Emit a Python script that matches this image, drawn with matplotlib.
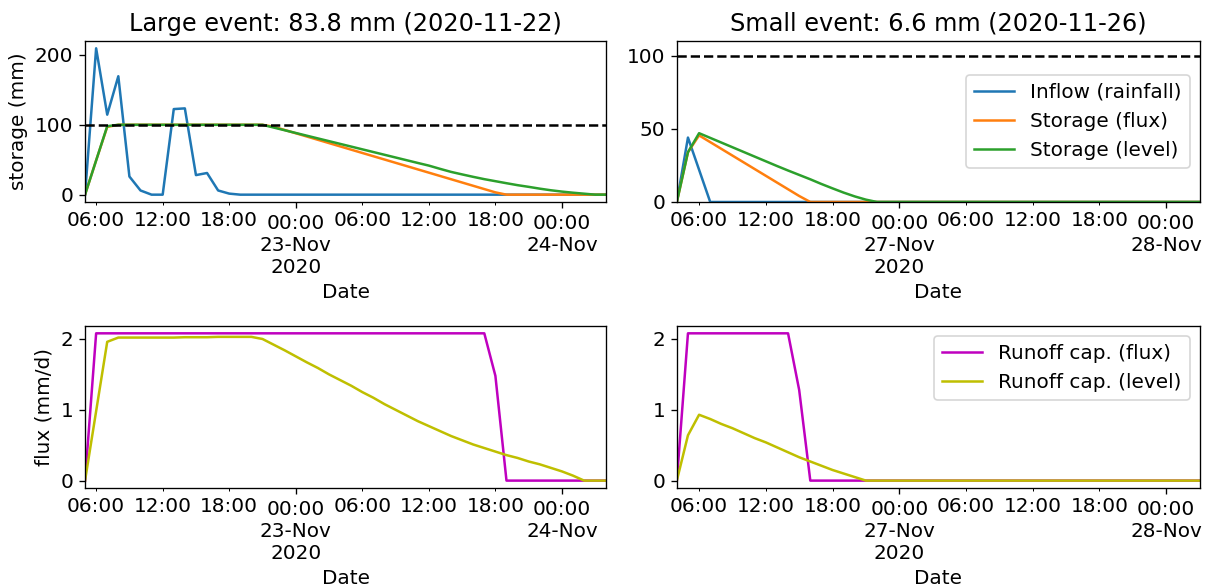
import matplotlib
matplotlib.use("Agg")
import matplotlib.pyplot as plt
import matplotlib.dates as mdates
import pandas as pd

plt.rcParams["font.size"] = 12

# ---------------- large event (hourly, from 2020-11-22 05:00) ----------------
large_start = "2020-11-22 05:00"
large_title = "Large event: 83.8 mm (2020-11-22)"

inflow_large = [0, 209.5, 114.5, 169.5, 26, 6, 0, 0, 122.5, 123.5, 28, 31, 6, 1.5,
                0, 0, 0, 0, 0, 0, 0, 0, 0, 0, 0, 0, 0, 0, 0, 0, 0, 0, 0, 0,
                0, 0, 0, 0, 0, 0, 0, 0, 0, 0, 0, 0, 0, 0]
storage_flux_large = [0, 49, 97, 100, 100, 100, 100, 100, 100, 100, 100, 100, 100, 100,
                      100, 100, 100, 97.3, 92.6, 87.9, 83.2, 78.5, 73.8, 69.1, 64.4, 59.7,
                      55.0, 50.3, 45.6, 40.9, 36.2, 31.5, 26.8, 22.1, 17.4, 12.7, 8.0, 3.3,
                      0, 0, 0, 0, 0, 0, 0, 0, 0, 0]
storage_level_large = [0, 49, 98, 100, 100, 100, 100, 100, 100, 100, 100, 100, 100, 100,
                       100, 100, 100, 96.1, 92.2, 88.3, 84.4, 80.5, 76.6, 72.7, 68.8, 64.9,
                       61.0, 57.1, 53.2, 49.3, 45.4, 41.6, 37.0, 32.6, 29.0, 25.5, 22.2,
                       19.3, 16.4, 13.6, 11.2, 8.6, 6.3, 4.4, 2.8, 1.4, 0, 0]
runoff_flux_large = [0, 2.08, 2.08, 2.08, 2.08, 2.08, 2.08, 2.08, 2.08, 2.08, 2.08, 2.08,
                     2.08, 2.08, 2.08, 2.08, 2.08, 2.08, 2.08, 2.08, 2.08, 2.08, 2.08, 2.08,
                     2.08, 2.08, 2.08, 2.08, 2.08, 2.08, 2.08, 2.08, 2.08, 2.08, 2.08, 2.08,
                     2.08, 1.48, 0, 0, 0, 0, 0, 0, 0, 0, 0, 0]
runoff_level_large = [0, 0.98, 1.96, 2.02, 2.02, 2.02, 2.02, 2.02, 2.02, 2.025, 2.025, 2.025,
                      2.03, 2.03, 2.03, 2.03, 2.00, 1.92, 1.84, 1.755, 1.67, 1.59, 1.50, 1.42,
                      1.34, 1.25, 1.17, 1.08, 1.00, 0.92, 0.84, 0.77, 0.70, 0.63, 0.57, 0.51,
                      0.46, 0.41, 0.36, 0.32, 0.27, 0.23, 0.18, 0.13, 0.07, 0, 0, 0]

large_major = ["2020-11-23 00:00", "2020-11-24 00:00"]
large_major_labels = ["00:00\n23-Nov\n2020", "00:00\n24-Nov"]
large_minor = ["2020-11-22 06:00", "2020-11-22 12:00", "2020-11-22 18:00",
               "2020-11-23 06:00", "2020-11-23 12:00", "2020-11-23 18:00"]
large_minor_labels = ["06:00", "12:00", "18:00", "06:00", "12:00", "18:00"]

# ---------------- small event (hourly, from 2020-11-26 04:00) ----------------
small_start = "2020-11-26 04:00"
small_title = "Small event: 6.6 mm (2020-11-26)"

inflow_small = [0, 44, 22, 0, 0, 0, 0, 0, 0, 0, 0, 0, 0, 0, 0, 0, 0, 0, 0, 0, 0, 0, 0, 0,
                0, 0, 0, 0, 0, 0, 0, 0, 0, 0, 0, 0, 0, 0, 0, 0, 0, 0, 0, 0, 0, 0, 0, 0]
storage_flux_small = [0, 34, 45.5, 40.9, 36.3, 31.7, 27.1, 22.5, 17.9, 13.3, 8.7, 4.1, 0,
                      0, 0, 0, 0, 0, 0, 0, 0, 0, 0, 0, 0, 0, 0, 0, 0, 0, 0, 0, 0, 0, 0, 0,
                      0, 0, 0, 0, 0, 0, 0, 0, 0, 0, 0, 0]
storage_level_small = [0, 34, 47, 43.8, 40.6, 37.4, 34.2, 31.0, 27.8, 24.6, 21.5, 18.5, 15.5,
                       12.3, 9.3, 6.4, 3.8, 1.6, 0, 0, 0, 0, 0, 0, 0, 0, 0, 0, 0, 0, 0, 0,
                       0, 0, 0, 0, 0, 0, 0, 0, 0, 0, 0, 0, 0, 0, 0, 0]
runoff_flux_small = [0, 2.08, 2.08, 2.08, 2.08, 2.08, 2.08, 2.08, 2.08, 2.08, 2.08, 1.28, 0,
                     0, 0, 0, 0, 0, 0, 0, 0, 0, 0, 0, 0, 0, 0, 0, 0, 0, 0, 0, 0, 0, 0, 0,
                     0, 0, 0, 0, 0, 0, 0, 0, 0, 0, 0, 0]
runoff_level_small = [0, 0.64, 0.93, 0.87, 0.80, 0.74, 0.67, 0.60, 0.54, 0.47, 0.40, 0.33,
                      0.27, 0.21, 0.15, 0.10, 0.05, 0, 0, 0, 0, 0, 0, 0, 0, 0, 0, 0, 0, 0,
                      0, 0, 0, 0, 0, 0, 0, 0, 0, 0, 0, 0, 0, 0, 0, 0, 0, 0]

small_major = ["2020-11-27 00:00", "2020-11-28 00:00"]
small_major_labels = ["00:00\n27-Nov\n2020", "00:00\n28-Nov"]
small_minor = ["2020-11-26 06:00", "2020-11-26 12:00", "2020-11-26 18:00",
               "2020-11-27 06:00", "2020-11-27 12:00", "2020-11-27 18:00"]
small_minor_labels = ["06:00", "12:00", "18:00", "06:00", "12:00", "18:00"]

storage_capacity = 100

fig = plt.figure(figsize=(1208 / 120, 587 / 120), dpi=120)
ax_tl = fig.add_axes([0.0704, 0.6559, 0.4315, 0.2743])
ax_tr = fig.add_axes([0.5603, 0.6559, 0.4327, 0.2743])
ax_bl = fig.add_axes([0.0704, 0.1687, 0.4315, 0.2760])
ax_br = fig.add_axes([0.5603, 0.1687, 0.4327, 0.2760])


def date_axis(ax, times, major, major_labels, minor, minor_labels):
    ax.set_xlim(times[0], times[-1])
    ax.set_xticks(mdates.date2num(pd.to_datetime(major)), labels=major_labels)
    ax.set_xticks(mdates.date2num(pd.to_datetime(minor)), labels=minor_labels, minor=True)
    ax.set_xlabel("Date")


for start, inflow, s_flux, s_level, r_flux, r_level, major, major_labels, minor, minor_labels, title, top, bottom in [
    (large_start, inflow_large, storage_flux_large, storage_level_large,
     runoff_flux_large, runoff_level_large, large_major, large_major_labels,
     large_minor, large_minor_labels, large_title, ax_tl, ax_bl),
    (small_start, inflow_small, storage_flux_small, storage_level_small,
     runoff_flux_small, runoff_level_small, small_major, small_major_labels,
     small_minor, small_minor_labels, small_title, ax_tr, ax_br),
]:
    times = pd.date_range(start, periods=len(inflow), freq="h")
    top.plot(times, inflow, color="C0", label="Inflow (rainfall)")
    top.plot(times, s_flux, color="C1", label="Storage (flux)")
    top.plot(times, s_level, color="C2", label="Storage (level)")
    top.axhline(storage_capacity, color="k", linestyle="--")
    top.set_title(title)
    date_axis(top, times, major, major_labels, minor, minor_labels)

    bottom.plot(times, r_flux, color="m", label="Runoff cap. (flux)")
    bottom.plot(times, r_level, color="y", label="Runoff cap. (level)")
    bottom.set_yticks([0, 1, 2])
    date_axis(bottom, times, major, major_labels, minor, minor_labels)

ax_tl.set_yticks([0, 100, 200])
ax_tl.set_ylabel("storage (mm)")
ax_tr.set_ylim(0, 110)
ax_tr.set_yticks([0, 50, 100])
ax_tr.legend(loc="center right")
ax_bl.set_ylabel("flux (mm/d)")
ax_br.legend(loc="upper right")

fig.savefig("out.png", dpi=120)
